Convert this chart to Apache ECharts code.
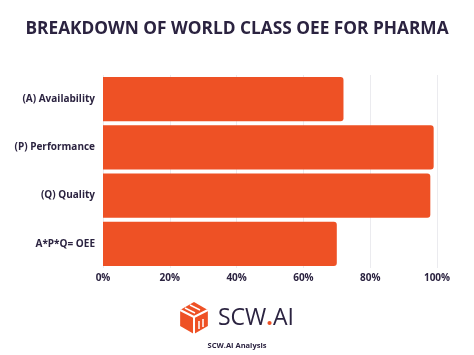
<!DOCTYPE html>
<html>
<head>
<meta charset="utf-8">
<script src="https://cdn.jsdelivr.net/npm/echarts@6/dist/echarts.min.js"></script>
<style>
html,body{margin:0;padding:0;background:#fff;}
#chart{width:474px;height:355px;}
</style>
</head>
<body>
<div id="chart"></div>
<script>
var categories = ['(A) Availability', '(P) Performance', '(Q) Quality', 'A*P*Q= OEE'];
var values = [72, 99, 98, 70];
var xTicks = [0, 20, 40, 60, 80, 100];
var titleText = 'BREAKDOWN OF WORLD CLASS OEE FOR PHARMA';
var sourceText = 'SCW.AI Analysis';

var navy = '#2b2340';
var orange = '#EE5125';
var chart = echarts.init(document.getElementById('chart'), null, {renderer: 'canvas'});

var cx = 194, cy = 318, r = 16;
function hex(cx, cy, r) {
  var pts = [];
  for (var i = 0; i < 6; i++) {
    var a = Math.PI / 180 * (60 * i - 90);
    pts.push([cx + r * Math.cos(a), cy + r * Math.sin(a)]);
  }
  return pts;
}
var hp = hex(cx, cy, r);

chart.setOption({
  animation: false,
  title: {
    text: titleText,
    left: 'center',
    top: 16,
    textStyle: {fontFamily: 'Open Sans', fontWeight: 'bold', fontSize: 17.3, color: navy}
  },
  grid: {left: 103, right: 37, top: 75, bottom: 87},
  xAxis: {
    type: 'value',
    min: 0, max: 100, interval: 20,
    axisLine: {show: false},
    axisTick: {show: false},
    splitLine: {show: true, lineStyle: {color: '#ebebef', width: 1}},
    axisLabel: {
      formatter: function (v) { return xTicks.indexOf(v) >= 0 ? v + '%' : ''; },
      fontFamily: 'Open Sans', fontWeight: 'bold', fontSize: 10, color: navy, margin: 5
    }
  },
  yAxis: {
    type: 'category',
    data: categories,
    inverse: true,
    axisLine: {show: false},
    axisTick: {show: false},
    axisLabel: {fontFamily: 'Open Sans', fontWeight: 'bold', fontSize: 10, color: navy, margin: 8}
  },
  series: [{
    type: 'bar',
    data: values,
    barCategoryGap: '8%',
    itemStyle: {color: orange, borderRadius: [0, 3, 3, 0]}
  }],
  graphic: [
    {type: 'polygon', shape: {points: hp}, style: {fill: orange}},
    {type: 'line', shape: {x1: hp[5][0], y1: hp[5][1], x2: cx, y2: cy - 1}, style: {stroke: '#fff', lineWidth: 2}},
    {type: 'line', shape: {x1: cx, y1: cy - 1, x2: hp[1][0], y2: hp[1][1]}, style: {stroke: '#fff', lineWidth: 2}},
    {type: 'line', shape: {x1: cx, y1: cy - 1, x2: hp[3][0], y2: hp[3][1]}, style: {stroke: '#fff', lineWidth: 2}},
    {type: 'line', shape: {x1: cx - 9, y1: cy - 10, x2: cx + 1, y2: cy - 5}, style: {stroke: '#fff', lineWidth: 1.5}},
    {type: 'line', shape: {x1: cx - 4, y1: cy - 13, x2: cx + 6, y2: cy - 8}, style: {stroke: '#fff', lineWidth: 1.5}},
    {type: 'line', shape: {x1: cx + 5, y1: cy + 3, x2: cx + 5, y2: cy + 11}, style: {stroke: '#fff', lineWidth: 1.5}},
    {type: 'line', shape: {x1: cx + 9, y1: cy + 1, x2: cx + 9, y2: cy + 9}, style: {stroke: '#fff', lineWidth: 1.5}},
    {type: 'text', x: 218, y: 318, style: {text: '{a|SCW}{b|.}{a|AI}', rich: {a: {fontFamily: 'Open Sans', fontSize: 23, fontWeight: 500, fill: navy, color: navy}, b: {fontFamily: 'Open Sans', fontSize: 23, fontWeight: 'bold', fill: orange, color: orange}}, textVerticalAlign: 'middle'}},
    {type: 'text', x: 237, y: 346, style: {text: sourceText, font: 'bold 7.5px "Open Sans"', fill: navy, textAlign: 'center', textVerticalAlign: 'middle'}}
  ]
});
</script>
</body>
</html>
